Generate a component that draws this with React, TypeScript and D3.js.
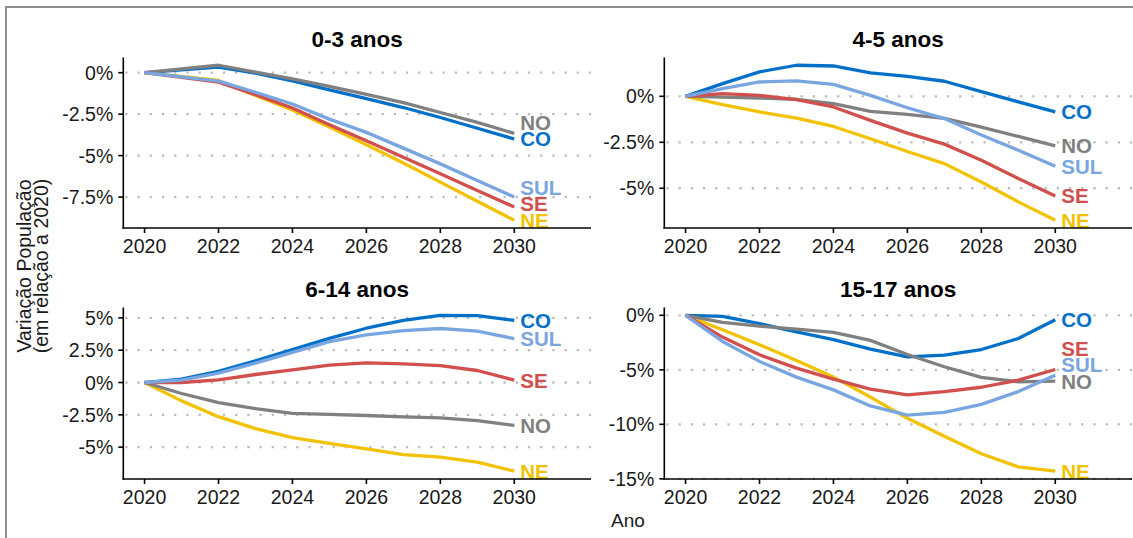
import React from "react";
import * as d3 from "d3";

const years = [2020, 2021, 2022, 2023, 2024, 2025, 2026, 2027, 2028, 2029, 2030];
const years03 = [2020, 2022, 2023, 2024, 2025, 2026, 2027, 2028, 2029, 2030];
const xTicks = [2020, 2022, 2024, 2026, 2028, 2030];

const regions = ["NE", "CO", "NO", "SE", "SUL"];
const regionColors = ["#F2C200", "#0370C8", "#808080", "#D14F4C", "#79A6E0"];

// 0-3 anos (years03)
const p03_NE = [0, -0.47, -1.38, -2.25, -3.27, -4.34, -5.45, -6.6, -7.75, -8.9];
const p03_CO = [0, 0.34, -0.02, -0.5, -1.03, -1.56, -2.1, -2.7, -3.35, -4.0];
const p03_NO = [0, 0.45, 0.04, -0.37, -0.83, -1.3, -1.8, -2.4, -3.0, -3.66];
const p03_SE = [0, -0.57, -1.32, -2.13, -3.14, -4.1, -5.1, -6.1, -7.1, -8.1];
const p03_SUL = [0, -0.51, -1.18, -1.89, -2.8, -3.6, -4.55, -5.5, -6.5, -7.5];

// 4-5 anos
const p45_NE = [0, -0.45, -0.85, -1.18, -1.64, -2.31, -3.0, -3.66, -4.66, -5.74, -6.74];
const p45_CO = [0, 0.69, 1.33, 1.69, 1.65, 1.27, 1.09, 0.82, 0.26, -0.3, -0.85];
const p45_NO = [0, -0.04, -0.09, -0.16, -0.4, -0.82, -0.98, -1.2, -1.67, -2.18, -2.7];
const p45_SE = [0, 0.15, 0.05, -0.18, -0.58, -1.31, -2.0, -2.6, -3.48, -4.47, -5.42];
const p45_SUL = [0, 0.42, 0.78, 0.84, 0.65, 0.05, -0.62, -1.21, -2.1, -2.93, -3.8];

// 6-14 anos
const p614_NE = [0, -1.42, -2.64, -3.57, -4.27, -4.71, -5.13, -5.57, -5.77, -6.16, -6.86];
const p614_CO = [0, 0.26, 0.86, 1.68, 2.54, 3.42, 4.2, 4.8, 5.2, 5.18, 4.8];
const p614_NO = [0, -0.85, -1.55, -2.02, -2.38, -2.46, -2.55, -2.65, -2.73, -2.94, -3.32];
const p614_SE = [0, 0.0, 0.2, 0.62, 0.98, 1.34, 1.52, 1.44, 1.31, 0.93, 0.18];
const p614_SUL = [0, 0.18, 0.73, 1.5, 2.33, 3.16, 3.68, 4.02, 4.18, 3.97, 3.4];

// 15-17 anos
const p1517_NE = [0, -1.32, -2.7, -4.14, -5.67, -7.5, -9.45, -11.1, -12.7, -13.9, -14.3];
const p1517_CO = [0, -0.09, -0.77, -1.53, -2.24, -3.1, -3.81, -3.66, -3.14, -2.13, -0.4];
const p1517_NO = [0, -0.64, -1.0, -1.26, -1.56, -2.3, -3.6, -4.72, -5.7, -6.1, -6.04];
const p1517_SE = [0, -2.0, -3.62, -4.85, -5.86, -6.78, -7.3, -7.0, -6.6, -5.95, -4.97];
const p1517_SUL = [0, -2.4, -4.23, -5.67, -6.84, -8.31, -9.15, -8.9, -8.17, -7.0, -5.5];

const ticks03 = [0, -2.5, -5, -7.5];
const ticks45 = [0, -2.5, -5];
const ticks614 = [5, 2.5, 0, -2.5, -5];
const ticks1517 = [0, -5, -10, -15];

const titles = ["0-3 anos", "4-5 anos", "6-14 anos", "15-17 anos"];

const FONT = "'Liberation Sans', Arial, Helvetica, sans-serif";

type PanelDef = {
  title: string;
  xs: number[];
  series: number[][];
  ticks: number[];
  x0: number;
  x1: number;
  y0: number;
  y1: number;
};

const panels: PanelDef[] = [
  { title: titles[0], xs: years03, series: [p03_NE, p03_CO, p03_NO, p03_SE, p03_SUL], ticks: ticks03, x0: 123.3, x1: 591, y0: 57.5, y1: 228 },
  { title: titles[1], xs: years, series: [p45_NE, p45_CO, p45_NO, p45_SE, p45_SUL], ticks: ticks45, x0: 664.3, x1: 1132, y0: 57.5, y1: 228 },
  { title: titles[2], xs: years, series: [p614_NE, p614_CO, p614_NO, p614_SE, p614_SUL], ticks: ticks614, x0: 123.3, x1: 591, y0: 307.5, y1: 479 },
  { title: titles[3], xs: years, series: [p1517_NE, p1517_CO, p1517_NO, p1517_SE, p1517_SUL], ticks: ticks1517, x0: 664.3, x1: 1132, y0: 307.5, y1: 479 },
];

function fmtPct(v: number) {
  return `${v}%`;
}

function Panel({ p }: { p: PanelDef }) {
  const x = d3.scaleLinear().domain([2019.425, 2032.075]).range([p.x0, p.x1]);
  const all = p.series.flat();
  const [mn, mx] = d3.extent(all) as [number, number];
  const pad = (mx - mn) * 0.05;
  const y = d3.scaleLinear().domain([mn - pad, mx + pad]).range([p.y1, p.y0]);
  const line = d3
    .line<[number, number]>()
    .x((d) => x(d[0]))
    .y((d) => y(d[1]));

  // label placement: greedy from bottom
  const spacing = 16.3;
  const ends = p.series.map((s, i) => ({ i, yv: y(s[s.length - 1]) }));
  const sorted = [...ends].sort((a, b) => b.yv - a.yv);
  const labelY: number[] = [];
  let prev = Infinity;
  for (const e of sorted) {
    const ly = Math.min(e.yv, prev - spacing);
    labelY[e.i] = ly;
    prev = ly;
  }
  const lastX = p.xs[p.xs.length - 1];

  return (
    <g>
      <text
        x={(p.x0 + p.x1) / 2}
        y={p.y0 - 11}
        textAnchor="middle"
        fontFamily={FONT}
        fontWeight="bold"
        fontSize={22.5}
        fill="#000"
      >
        {p.title}
      </text>
      {p.ticks.map((t) => (
        <line
          key={"g" + t}
          x1={p.x0 + 2}
          x2={p.x1}
          y1={y(t)}
          y2={y(t)}
          stroke="#bdbdbd"
          strokeWidth={2.3}
          strokeDasharray="2.3 9.9"
        />
      ))}
      {p.series.map((s, i) => (
        <path
          key={regions[i]}
          d={line(p.xs.map((yr, k) => [yr, s[k]] as [number, number])) || ""}
          fill="none"
          stroke={regionColors[i]}
          strokeWidth={3.3}
          strokeLinejoin="round"
        />
      ))}
      {p.series.map((s, i) => (
        <text
          key={"l" + regions[i]}
          x={x(lastX) + 6}
          y={labelY[i] + 7.4}
          fontFamily={FONT}
          fontWeight="bold"
          fontSize={20.5}
          fill={regionColors[i]}
        >
          {regions[i]}
        </text>
      ))}
      <line x1={p.x0} x2={p.x0} y1={p.y0} y2={p.y1 + 0.8} stroke="#000" strokeWidth={1.6} />
      <line x1={p.x0 - 0.8} x2={p.x1} y1={p.y1} y2={p.y1} stroke="#000" strokeWidth={1.6} />
      {p.ticks.map((t) => (
        <g key={"t" + t}>
          <line x1={p.x0 - 5} x2={p.x0} y1={y(t)} y2={y(t)} stroke="#000" strokeWidth={1.6} />
          <text
            x={p.x0 - 10}
            y={y(t) + 7}
            textAnchor="end"
            fontFamily={FONT}
            fontSize={19.5}
            fill="#1a1a1a"
          >
            {fmtPct(t)}
          </text>
        </g>
      ))}
      {xTicks.map((t) => (
        <g key={"x" + t}>
          <line x1={x(t)} x2={x(t)} y1={p.y1} y2={p.y1 + 5} stroke="#000" strokeWidth={1.6} />
          <text
            x={x(t)}
            y={p.y1 + 25}
            textAnchor="middle"
            fontFamily={FONT}
            fontSize={19.5}
            fill="#1a1a1a"
          >
            {t}
          </text>
        </g>
      ))}
    </g>
  );
}

export default function App() {
  return (
    <svg
      width={1133}
      height={538}
      style={{ position: "absolute", left: 0, top: 0, background: "#fff" }}
    >
      <rect x={0} y={0} width={1133} height={538} fill="#fff" />
      <rect x={6} y={7} width={1200} height={600} fill="none" stroke="#8f8f8f" strokeWidth={2} />
      {panels.map((p) => (
        <Panel key={p.title} p={p} />
      ))}
      <text
        transform="translate(31,266) rotate(-90)"
        textAnchor="middle"
        fontFamily={FONT}
        fontSize={19.5}
        fill="#1a1a1a"
      >
        Variação População
      </text>
      <text
        transform="translate(48,266) rotate(-90)"
        textAnchor="middle"
        fontFamily={FONT}
        fontSize={19.5}
        fill="#1a1a1a"
      >
        (em relação a 2020)
      </text>
      <text x={628} y={527} textAnchor="middle" fontFamily={FONT} fontSize={19} fill="#1a1a1a">
        Ano
      </text>
    </svg>
  );
}
